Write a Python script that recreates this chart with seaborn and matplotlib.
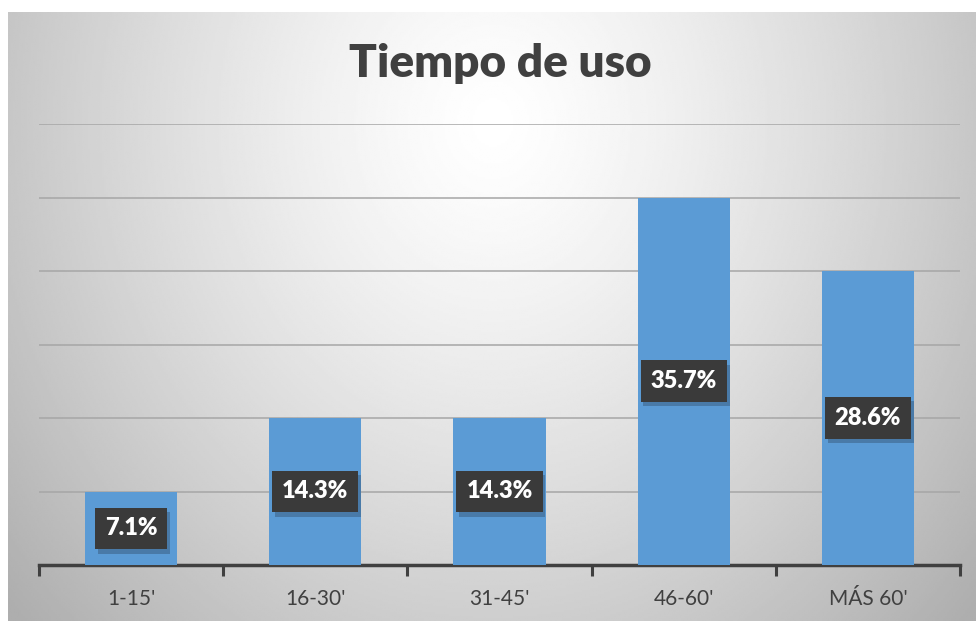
import numpy as np
import pandas as pd
import matplotlib
matplotlib.use('Agg')
import matplotlib.pyplot as plt
import matplotlib.patheffects as pe
import seaborn as sns

# Data
categories = ["1-15'", "16-30'", "31-45'", "46-60'", "MÁS 60'"]
percent = [7.1, 14.3, 14.3, 35.7, 28.6]
labels = ['7.1%', '14.3%', '14.3%', '35.7%', '28.6%']
grid_step = 100 / 14  # one answer out of 14

df = pd.DataFrame({'tiempo': categories, 'pct': percent})

sns.set_theme(style='white')
plt.rcParams['font.family'] = ['Lato', 'DejaVu Sans']

fig = plt.figure(figsize=(9.76, 6.21), dpi=100)
fig.patch.set_facecolor('white')

# chart area background: radial grey gradient like the Excel style
bg = fig.add_axes([8 / 976, 0, 1 - 8 / 976, 1 - 12 / 621])
h, w = 300, 480
yy, xx = np.mgrid[0:h, 0:w]
cx, cy = w * 0.5, h * 0.18
d = np.sqrt(((xx - cx) / (w * 0.55)) ** 2 + ((yy - cy) / (h * 1.0)) ** 2)
shade = 1.0 - 0.25 * np.clip(d, 0, 1.2) ** 1.3
bg.imshow(shade, cmap='gray', vmin=0, vmax=1, aspect='auto', interpolation='bilinear')
bg.set_axis_off()

ax = fig.add_axes([39 / 976, 1 - 565 / 621, (960 - 39) / 976, (565 - 124) / 621])
ax.set_facecolor('none')

sns.barplot(data=df, x='tiempo', y='pct', color='#5B9BD5', width=0.5,
            saturation=1, linewidth=0, ax=ax, zorder=3)

ax.set_ylim(0, grid_step * 6)
ax.set_yticks(np.arange(0, 6.5) * grid_step)
ax.yaxis.grid(True, color='#a6a6a6', linewidth=1.1, zorder=0)
ax.set_axisbelow(True)
ax.tick_params(axis='y', left=False, labelleft=False)
ax.set_xlim(-0.5, 4.5)

# ticks between categories
ax.set_xticks(np.arange(5))
ax.set_xticklabels(categories, fontsize=15, color='#404040')
ax.set_xticks(np.arange(-0.5, 5, 1), minor=True)
ax.tick_params(axis='x', which='major', length=0, pad=17)
ax.tick_params(axis='x', which='minor', length=8, width=2.2, color='#404040',
               direction='out', bottom=True)

for side in ['top', 'right', 'left']:
    ax.spines[side].set_visible(False)
ax.spines['bottom'].set_color('#404040')
ax.spines['bottom'].set_linewidth(2.5)
ax.set_xlabel('')
ax.set_ylabel('')

# dark data labels in the middle of each bar
for i, (v, lab) in enumerate(zip(percent, labels)):
    t = ax.text(i, v / 2, lab, ha='center', va='center', fontsize=17,
                fontweight='heavy', color='white', zorder=5,
                bbox=dict(boxstyle='square,pad=0.42', facecolor='#3a3a3a',
                          edgecolor='none'))
    t.get_bbox_patch().set_path_effects([
        pe.SimplePatchShadow(offset=(2, -3), shadow_rgbFace='#203040', alpha=0.3),
        pe.Normal()])

fig.text(500 / 976, 1 - 64 / 621, 'Tiempo de uso', ha='center', va='center',
         fontsize=33, fontweight='heavy', color='#404040')

plt.savefig('out.png', dpi=100, facecolor='white')
plt.close()
